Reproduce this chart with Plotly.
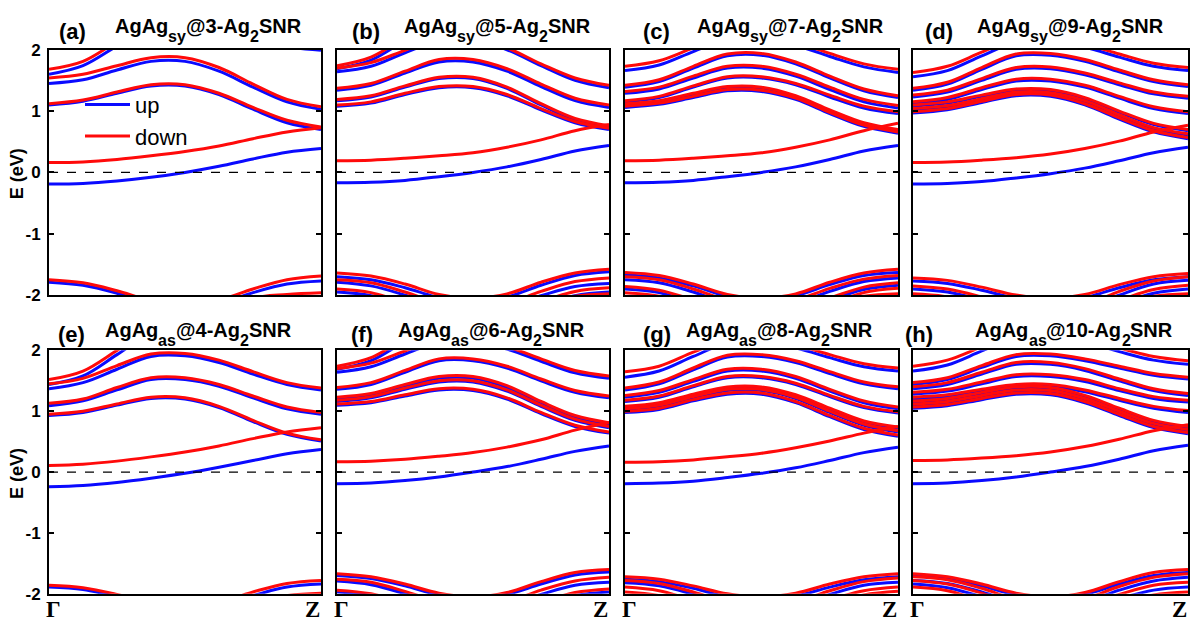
import plotly.graph_objects as go

# k-path sampling between Gamma (0) and Z (1)
k_path = [0.0, 0.125, 0.25, 0.375, 0.5, 0.625, 0.75, 0.875, 1.0]

panel_tags = ["(a)", "(b)", "(c)", "(d)", "(e)", "(f)", "(g)", "(h)"]
# title pieces: AgAg_{site}@{width}-Ag_2SNR
title_sites = ["sy", "sy", "sy", "sy", "as", "as", "as", "as"]
title_widths = ["3", "5", "7", "9", "4", "6", "8", "10"]
y_ticks = [-2, -1, 0, 1, 2]
x_tick_labels = ["Γ", "Z"]
legend_names = ["up", "down"]

# ---- (a) AgAg_sy@3 : spin-up / spin-down bands (eV) ----
a_up = [
    [-0.19, -0.18, -0.14, -0.08, 0.00, 0.10, 0.22, 0.33, 0.39],
    [1.10, 1.16, 1.29, 1.41, 1.41, 1.27, 1.03, 0.81, 0.70],
    [1.45, 1.51, 1.67, 1.81, 1.81, 1.65, 1.39, 1.15, 1.03],
    [1.60, 1.74, 2.06, 2.36, 2.39, 2.31, 2.17, 2.05, 1.99],
    [-1.79, -1.84, -1.97, -2.14, -2.20, -2.14, -1.96, -1.82, -1.77],
    [-2.35, -2.40, -2.50, -2.60, -2.65, -2.50, -2.20, -2.08, -2.04],
]
a_dn = [
    [0.16, 0.17, 0.21, 0.27, 0.34, 0.43, 0.55, 0.66, 0.73],
    [1.12, 1.18, 1.31, 1.43, 1.43, 1.29, 1.06, 0.85, 0.74],
    [1.54, 1.60, 1.74, 1.87, 1.87, 1.71, 1.44, 1.19, 1.07],
    [1.68, 1.81, 2.13, 2.41, 2.44, 2.36, 2.22, 2.10, 2.04],
    [-1.75, -1.80, -1.93, -2.09, -2.15, -2.08, -1.90, -1.75, -1.69],
    [-2.30, -2.34, -2.44, -2.56, -2.60, -2.40, -2.06, -1.99, -1.96],
]

# ---- (b) AgAg_sy@5 ----
b_up = [
    [-0.17, -0.16, -0.13, -0.07, 0.00, 0.09, 0.21, 0.35, 0.44],
    [1.08, 1.13, 1.27, 1.38, 1.38, 1.25, 1.02, 0.81, 0.70],
    [1.17, 1.23, 1.39, 1.53, 1.53, 1.37, 1.10, 0.85, 0.73],
    [1.34, 1.42, 1.62, 1.80, 1.80, 1.65, 1.40, 1.17, 1.06],
    [1.64, 1.73, 1.95, 2.14, 2.15, 2.00, 1.74, 1.50, 1.38],
    [1.69, 1.83, 2.15, 2.45, 2.50, 2.40, 2.25, 2.13, 2.08],
    [-1.70, -1.75, -1.88, -2.04, -2.10, -2.03, -1.84, -1.68, -1.62],
    [-1.79, -1.85, -2.00, -2.18, -2.25, -2.18, -2.01, -1.86, -1.81],
    [-1.95, -2.01, -2.18, -2.38, -2.45, -2.38, -2.18, -2.01, -1.95],
]
b_dn = [
    [0.19, 0.20, 0.23, 0.27, 0.32, 0.41, 0.53, 0.68, 0.78],
    [1.10, 1.15, 1.29, 1.40, 1.40, 1.27, 1.04, 0.83, 0.72],
    [1.19, 1.25, 1.41, 1.55, 1.55, 1.39, 1.12, 0.88, 0.76],
    [1.37, 1.45, 1.65, 1.84, 1.84, 1.69, 1.44, 1.21, 1.10],
    [1.70, 1.79, 1.99, 2.18, 2.18, 2.03, 1.77, 1.54, 1.42],
    [1.74, 1.88, 2.20, 2.50, 2.55, 2.45, 2.30, 2.18, 2.12],
    [-1.64, -1.69, -1.82, -1.99, -2.05, -1.98, -1.79, -1.64, -1.58],
    [-1.75, -1.80, -1.95, -2.13, -2.20, -2.13, -1.94, -1.78, -1.72],
    [-1.90, -1.96, -2.13, -2.33, -2.40, -2.32, -2.11, -1.94, -1.88],
    [-2.30, -2.35, -2.45, -2.55, -2.60, -2.45, -2.15, -2.02, -1.98],
]

# ---- (c) AgAg_sy@7 ----
c_up = [
    [-0.17, -0.16, -0.13, -0.07, 0.00, 0.09, 0.21, 0.35, 0.44],
    [1.06, 1.11, 1.22, 1.33, 1.32, 1.19, 0.96, 0.75, 0.64],
    [1.10, 1.15, 1.27, 1.38, 1.37, 1.23, 1.00, 0.79, 0.68],
    [1.15, 1.22, 1.39, 1.54, 1.54, 1.43, 1.23, 1.05, 0.96],
    [1.29, 1.36, 1.54, 1.70, 1.70, 1.57, 1.35, 1.15, 1.05],
    [1.39, 1.48, 1.70, 1.90, 1.91, 1.77, 1.54, 1.33, 1.22],
    [1.66, 1.75, 1.97, 2.17, 2.18, 2.07, 1.89, 1.72, 1.63],
    [-1.67, -1.72, -1.85, -2.02, -2.08, -2.01, -1.83, -1.68, -1.63],
    [-1.75, -1.80, -1.95, -2.13, -2.20, -2.13, -1.94, -1.78, -1.72],
    [-1.90, -1.96, -2.13, -2.33, -2.40, -2.32, -2.09, -1.91, -1.84],
]
c_dn = [
    [0.19, 0.20, 0.23, 0.27, 0.32, 0.41, 0.53, 0.68, 0.80],
    [1.08, 1.13, 1.24, 1.35, 1.34, 1.21, 0.98, 0.77, 0.66],
    [1.12, 1.17, 1.29, 1.40, 1.39, 1.25, 1.02, 0.81, 0.70],
    [1.17, 1.24, 1.41, 1.56, 1.56, 1.45, 1.26, 1.08, 0.99],
    [1.32, 1.39, 1.57, 1.73, 1.73, 1.60, 1.39, 1.19, 1.09],
    [1.42, 1.51, 1.73, 1.93, 1.94, 1.80, 1.57, 1.36, 1.25],
    [1.73, 1.82, 2.03, 2.22, 2.23, 2.12, 1.94, 1.77, 1.68],
    [-1.63, -1.68, -1.82, -1.99, -2.05, -1.98, -1.79, -1.64, -1.58],
    [-1.70, -1.75, -1.90, -2.08, -2.15, -2.08, -1.89, -1.74, -1.68],
    [-1.86, -1.92, -2.08, -2.28, -2.35, -2.27, -2.05, -1.87, -1.80],
    [-1.96, -2.02, -2.20, -2.42, -2.50, -2.41, -2.16, -1.96, -1.89],
    [-2.30, -2.35, -2.45, -2.55, -2.60, -2.45, -2.15, -2.02, -1.98],
]

# ---- (d) AgAg_sy@9 ----
d_up = [
    [-0.19, -0.18, -0.15, -0.09, -0.02, 0.07, 0.19, 0.32, 0.41],
    [0.97, 1.02, 1.14, 1.25, 1.24, 1.10, 0.87, 0.66, 0.55],
    [1.02, 1.07, 1.18, 1.29, 1.28, 1.15, 0.92, 0.71, 0.61],
    [1.08, 1.13, 1.24, 1.34, 1.33, 1.20, 0.98, 0.78, 0.68],
    [1.12, 1.19, 1.35, 1.49, 1.49, 1.39, 1.21, 1.04, 0.96],
    [1.23, 1.31, 1.50, 1.68, 1.69, 1.59, 1.43, 1.28, 1.21],
    [1.34, 1.44, 1.68, 1.90, 1.91, 1.81, 1.64, 1.48, 1.40],
    [1.56, 1.66, 1.90, 2.12, 2.14, 2.04, 1.88, 1.73, 1.66],
    [-1.77, -1.81, -1.92, -2.05, -2.10, -2.04, -1.88, -1.75, -1.70],
    [-1.90, -1.95, -2.08, -2.24, -2.30, -2.21, -2.00, -1.82, -1.76],
    [-2.03, -2.08, -2.22, -2.39, -2.45, -2.37, -2.15, -1.97, -1.90],
]
d_dn = [
    [0.16, 0.17, 0.20, 0.24, 0.30, 0.39, 0.51, 0.66, 0.77],
    [0.99, 1.04, 1.16, 1.27, 1.26, 1.12, 0.89, 0.68, 0.57],
    [1.04, 1.09, 1.20, 1.31, 1.30, 1.17, 0.94, 0.73, 0.63],
    [1.10, 1.15, 1.26, 1.36, 1.35, 1.22, 1.00, 0.80, 0.70],
    [1.15, 1.22, 1.38, 1.52, 1.52, 1.42, 1.24, 1.07, 0.99],
    [1.26, 1.34, 1.53, 1.71, 1.72, 1.62, 1.46, 1.31, 1.24],
    [1.37, 1.47, 1.71, 1.93, 1.94, 1.84, 1.67, 1.51, 1.43],
    [1.63, 1.73, 1.96, 2.17, 2.19, 2.09, 1.93, 1.78, 1.71],
    [-1.72, -1.76, -1.87, -2.00, -2.05, -1.99, -1.83, -1.70, -1.65],
    [-1.85, -1.90, -2.03, -2.19, -2.25, -2.16, -1.94, -1.77, -1.70],
    [-1.98, -2.03, -2.17, -2.34, -2.40, -2.32, -2.09, -1.91, -1.84],
    [-2.30, -2.35, -2.45, -2.55, -2.60, -2.45, -2.15, -2.02, -1.98],
]

# ---- (e) AgAg_as@4 ----
e_up = [
    [-0.24, -0.22, -0.17, -0.10, -0.02, 0.08, 0.19, 0.30, 0.37],
    [0.93, 0.98, 1.10, 1.21, 1.20, 1.06, 0.83, 0.62, 0.51],
    [1.09, 1.17, 1.35, 1.52, 1.52, 1.41, 1.22, 1.04, 0.95],
    [1.37, 1.47, 1.69, 1.90, 1.91, 1.80, 1.61, 1.44, 1.35],
    [1.44, 1.58, 1.93, 2.28, 2.40, 2.35, 2.25, 2.15, 2.10],
    [-1.89, -1.93, -2.05, -2.20, -2.25, -2.19, -2.03, -1.89, -1.84],
]
e_dn = [
    [0.11, 0.13, 0.18, 0.25, 0.33, 0.43, 0.55, 0.66, 0.73],
    [0.95, 1.00, 1.12, 1.23, 1.22, 1.08, 0.85, 0.64, 0.53],
    [1.13, 1.20, 1.39, 1.55, 1.55, 1.44, 1.25, 1.07, 0.98],
    [1.45, 1.54, 1.75, 1.94, 1.95, 1.84, 1.65, 1.47, 1.38],
    [1.52, 1.66, 2.00, 2.35, 2.45, 2.40, 2.30, 2.20, 2.15],
    [-1.86, -1.90, -2.01, -2.15, -2.20, -2.14, -1.97, -1.83, -1.78],
    [-2.30, -2.35, -2.45, -2.55, -2.60, -2.45, -2.15, -2.03, -1.99],
]

# ---- (f) AgAg_as@6 ----
f_up = [
    [-0.19, -0.18, -0.14, -0.08, 0.00, 0.09, 0.21, 0.34, 0.43],
    [1.10, 1.14, 1.25, 1.35, 1.34, 1.20, 0.96, 0.75, 0.64],
    [1.16, 1.22, 1.36, 1.48, 1.48, 1.33, 1.08, 0.85, 0.73],
    [1.20, 1.26, 1.41, 1.54, 1.54, 1.39, 1.13, 0.90, 0.78],
    [1.36, 1.44, 1.64, 1.83, 1.83, 1.71, 1.50, 1.31, 1.22],
    [1.64, 1.73, 1.94, 2.13, 2.14, 2.02, 1.82, 1.63, 1.54],
    [1.69, 1.83, 2.15, 2.45, 2.50, 2.40, 2.25, 2.13, 2.08],
    [-1.70, -1.75, -1.87, -2.02, -2.08, -2.01, -1.84, -1.69, -1.64],
    [-1.79, -1.85, -2.00, -2.18, -2.25, -2.18, -2.01, -1.86, -1.81],
    [-1.97, -2.03, -2.19, -2.38, -2.45, -2.38, -2.19, -2.03, -1.97],
]
f_dn = [
    [0.17, 0.18, 0.21, 0.26, 0.32, 0.41, 0.53, 0.69, 0.81],
    [1.12, 1.16, 1.27, 1.37, 1.36, 1.22, 0.98, 0.77, 0.66],
    [1.18, 1.24, 1.38, 1.50, 1.50, 1.35, 1.10, 0.87, 0.75],
    [1.23, 1.29, 1.44, 1.57, 1.57, 1.42, 1.16, 0.93, 0.81],
    [1.39, 1.47, 1.67, 1.86, 1.86, 1.74, 1.53, 1.34, 1.25],
    [1.70, 1.79, 1.99, 2.18, 2.18, 2.06, 1.86, 1.67, 1.58],
    [1.74, 1.88, 2.20, 2.50, 2.55, 2.45, 2.30, 2.18, 2.12],
    [-1.67, -1.72, -1.84, -1.99, -2.05, -1.98, -1.80, -1.65, -1.60],
    [-1.76, -1.81, -1.96, -2.13, -2.20, -2.13, -1.94, -1.79, -1.73],
    [-1.94, -2.00, -2.15, -2.33, -2.40, -2.33, -2.14, -1.98, -1.92],
]

# ---- (g) AgAg_as@8 ----
g_up = [
    [-0.19, -0.18, -0.15, -0.09, -0.02, 0.07, 0.19, 0.32, 0.41],
    [0.98, 1.03, 1.17, 1.28, 1.28, 1.14, 0.91, 0.70, 0.59],
    [1.02, 1.08, 1.22, 1.34, 1.34, 1.21, 0.98, 0.77, 0.66],
    [1.06, 1.12, 1.26, 1.38, 1.38, 1.25, 1.03, 0.82, 0.72],
    [1.16, 1.23, 1.40, 1.55, 1.55, 1.44, 1.24, 1.06, 0.97],
    [1.23, 1.31, 1.49, 1.66, 1.66, 1.54, 1.33, 1.14, 1.04],
    [1.35, 1.45, 1.68, 1.89, 1.90, 1.80, 1.62, 1.45, 1.37],
    [1.56, 1.66, 1.90, 2.12, 2.14, 2.04, 1.88, 1.73, 1.66],
    [-1.76, -1.80, -1.91, -2.05, -2.10, -2.04, -1.89, -1.77, -1.72],
    [-1.82, -1.87, -2.01, -2.19, -2.25, -2.18, -2.01, -1.86, -1.81],
]
g_dn = [
    [0.16, 0.17, 0.20, 0.25, 0.31, 0.40, 0.51, 0.64, 0.75],
    [1.00, 1.05, 1.19, 1.30, 1.30, 1.16, 0.93, 0.72, 0.61],
    [1.04, 1.10, 1.24, 1.36, 1.36, 1.23, 1.00, 0.79, 0.68],
    [1.08, 1.14, 1.28, 1.40, 1.40, 1.27, 1.05, 0.84, 0.74],
    [1.18, 1.25, 1.42, 1.57, 1.57, 1.46, 1.26, 1.08, 0.99],
    [1.26, 1.34, 1.52, 1.69, 1.69, 1.57, 1.36, 1.17, 1.07],
    [1.38, 1.48, 1.71, 1.92, 1.93, 1.83, 1.65, 1.48, 1.40],
    [1.65, 1.74, 1.97, 2.17, 2.19, 2.09, 1.93, 1.78, 1.71],
    [-1.72, -1.76, -1.87, -2.00, -2.05, -1.99, -1.84, -1.72, -1.67],
    [-1.78, -1.83, -1.97, -2.14, -2.20, -2.13, -1.95, -1.80, -1.74],
    [-1.89, -1.95, -2.11, -2.29, -2.35, -2.29, -2.10, -1.95, -1.89],
    [-1.97, -2.03, -2.19, -2.38, -2.45, -2.38, -2.18, -2.02, -1.96],
]

# ---- (h) AgAg_as@10 ----
h_up = [
    [-0.19, -0.18, -0.14, -0.08, 0.00, 0.09, 0.21, 0.35, 0.44],
    [1.05, 1.09, 1.19, 1.28, 1.27, 1.14, 0.93, 0.73, 0.63],
    [1.10, 1.14, 1.24, 1.33, 1.32, 1.19, 0.98, 0.78, 0.68],
    [1.15, 1.19, 1.29, 1.38, 1.37, 1.24, 1.03, 0.83, 0.73],
    [1.20, 1.24, 1.33, 1.41, 1.41, 1.32, 1.18, 1.05, 0.98],
    [1.28, 1.33, 1.45, 1.57, 1.57, 1.49, 1.34, 1.21, 1.15],
    [1.37, 1.44, 1.61, 1.77, 1.77, 1.67, 1.50, 1.34, 1.26],
    [1.44, 1.52, 1.72, 1.90, 1.91, 1.83, 1.71, 1.59, 1.53],
    [1.66, 1.76, 1.99, 2.21, 2.23, 2.14, 1.98, 1.84, 1.77],
    [-1.70, -1.75, -1.87, -2.02, -2.08, -2.01, -1.84, -1.70, -1.65],
    [-1.78, -1.83, -1.97, -2.14, -2.20, -2.13, -1.94, -1.79, -1.73],
    [-1.84, -1.90, -2.05, -2.23, -2.30, -2.24, -2.08, -1.94, -1.89],
]
h_dn = [
    [0.19, 0.20, 0.23, 0.27, 0.33, 0.42, 0.54, 0.68, 0.78],
    [1.07, 1.11, 1.21, 1.30, 1.29, 1.16, 0.95, 0.75, 0.65],
    [1.12, 1.16, 1.26, 1.35, 1.34, 1.21, 1.00, 0.80, 0.70],
    [1.17, 1.21, 1.31, 1.40, 1.39, 1.26, 1.05, 0.85, 0.75],
    [1.23, 1.27, 1.36, 1.44, 1.44, 1.35, 1.21, 1.08, 1.01],
    [1.31, 1.36, 1.48, 1.60, 1.60, 1.52, 1.37, 1.24, 1.18],
    [1.40, 1.47, 1.64, 1.80, 1.80, 1.70, 1.53, 1.37, 1.29],
    [1.47, 1.55, 1.75, 1.93, 1.94, 1.86, 1.74, 1.62, 1.56],
    [1.74, 1.84, 2.06, 2.27, 2.29, 2.20, 2.04, 1.90, 1.83],
    [-1.67, -1.72, -1.84, -1.99, -2.05, -1.98, -1.80, -1.65, -1.60],
    [-1.72, -1.77, -1.91, -2.09, -2.15, -2.08, -1.88, -1.73, -1.67],
    [-1.78, -1.84, -1.99, -2.18, -2.25, -2.18, -2.01, -1.86, -1.81],
    [-1.89, -1.95, -2.12, -2.32, -2.40, -2.33, -2.17, -2.02, -1.97],
]

spin_up = [a_up, b_up, c_up, d_up, e_up, f_up, g_up, h_up]
spin_dn = [a_dn, b_dn, c_dn, d_dn, e_dn, f_dn, g_dn, h_dn]

# ---- page geometry (pixels) ----
W, H = 1198, 629
col_px = [(49, 321), (337, 609), (625, 898), (913, 1188)]
row_px = [(42, 295), (352, 603)]
tag_cy = [23, 336]          # vertical centre of the panel letters
title_base = [25, 338]      # baseline of the panel titles
tag_dx = [23, 29, 31, 26, 22, 25, 32, 6]
title_dx = [158, 159, 164, 156, 148, 153, 153, 160]
MAIN_SIZE, SUB_SIZE, SUB_DROP = 20, 16, 9
BLUE = "#0a0aff"
RED = "#ff0a0a"
SANS = "Liberation Sans, Arial, sans-serif"
SERIF = "Liberation Serif, Times New Roman, serif"

# advance widths (1/1000 em) of the bold sans glyphs used in the titles
BOLD_ADV = {"A": 722, "g": 611, "s": 556, "y": 556, "a": 556, "@": 975,
            "-": 333, "S": 667, "N": 722, "R": 722}


def text_width(s, size):
    return sum(BOLD_ADV.get(ch, 556) for ch in s) * size / 1000.0


fig = go.Figure()
layout_axes = {}
annotations = []
shapes = []

for i in range(8):
    r, c = divmod(i, 4)
    n = i + 1
    xa = "x" if n == 1 else f"x{n}"
    ya = "y" if n == 1 else f"y{n}"
    x0, x1 = col_px[c]
    y0, y1 = row_px[r]

    layout_axes["xaxis" if n == 1 else f"xaxis{n}"] = dict(
        domain=[x0 / W, x1 / W], range=[0, 1], anchor=ya,
        showline=True, linewidth=2, linecolor="black", mirror=True,
        ticks="", showticklabels=False, showgrid=False, zeroline=False,
    )
    layout_axes["yaxis" if n == 1 else f"yaxis{n}"] = dict(
        domain=[1 - y1 / H, 1 - y0 / H], range=[-2, 2], anchor=xa,
        showline=True, linewidth=2, linecolor="black", mirror="ticks",
        ticks="inside", ticklen=5, tickwidth=2, tickcolor="black",
        tickvals=y_ticks, ticktext=[str(t) for t in y_ticks],
        showticklabels=(c == 0), ticklabelstandoff=3,
        tickfont=dict(family=SANS, size=17, color="black", weight="bold"),
        showgrid=False, zeroline=False,
    )

    for j, band in enumerate(spin_up[i]):
        fig.add_trace(go.Scatter(
            x=k_path, y=band, mode="lines", xaxis=xa, yaxis=ya,
            line=dict(color=BLUE, width=3, shape="spline", smoothing=1.0),
            name=legend_names[0], legendgroup="up",
            showlegend=(i == 0 and j == 0), hoverinfo="skip",
        ))
    for j, band in enumerate(spin_dn[i]):
        fig.add_trace(go.Scatter(
            x=k_path, y=band, mode="lines", xaxis=xa, yaxis=ya,
            line=dict(color=RED, width=3, shape="spline", smoothing=1.0),
            name=legend_names[1], legendgroup="down",
            showlegend=(i == 0 and j == 0), hoverinfo="skip",
        ))

    # Fermi level
    shapes.append(dict(
        type="line", xref=f"{xa} domain", yref=ya, x0=0, x1=1, y0=0, y1=0,
        line=dict(color="black", width=1.3, dash="dash"), layer="above",
    ))

    # panel letter
    annotations.append(dict(
        text=panel_tags[i], xref="paper", yref="paper",
        x=(x0 + tag_dx[i]) / W, y=1 - tag_cy[r] / H,
        xanchor="center", yanchor="middle", showarrow=False,
        font=dict(family=SANS, size=22, color="black", weight="bold"),
    ))

    # panel title built from main text and lowered subscripts
    pieces = [("AgAg", False), (title_sites[i], True),
              (f"@{title_widths[i]}-Ag", False), ("2", True), ("SNR", False)]
    widths = [text_width(t, SUB_SIZE if sub else MAIN_SIZE) for t, sub in pieces]
    cursor = x0 + title_dx[i] - sum(widths) / 2
    for (txt, sub), w in zip(pieces, widths):
        size = SUB_SIZE if sub else MAIN_SIZE
        base = title_base[r] + (SUB_DROP if sub else 0)
        annotations.append(dict(
            text=txt, xref="paper", yref="paper",
            x=cursor / W, y=1 - (base - 0.35 * size) / H,
            xanchor="left", yanchor="middle", showarrow=False, borderpad=0,
            font=dict(family=SANS, size=size, color="black", weight="bold"),
        ))
        cursor += w

    if r == 1:
        annotations.append(dict(
            text=x_tick_labels[0], xref=xa, yref="paper", x=0, xshift=-5,
            y=1 - 619 / H, xanchor="left", yanchor="middle", showarrow=False,
            font=dict(family=SERIF, size=23, color="black", weight="bold"),
        ))
        annotations.append(dict(
            text=x_tick_labels[1], xref=xa, yref="paper", x=1, xshift=1,
            y=1 - 619 / H, xanchor="right", yanchor="middle", showarrow=False,
            font=dict(family=SERIF, size=23, color="black", weight="bold"),
        ))

    if c == 0:
        annotations.append(dict(
            text="E (eV)", xref="paper", yref="paper", x=17 / W,
            y=1 - ((y0 + y1) / 2 + 2) / H, xanchor="center", yanchor="middle",
            textangle=-90, showarrow=False,
            font=dict(family=SANS, size=18, color="black", weight="bold"),
        ))

fig.update_layout(
    width=W, height=H, autosize=False,
    margin=dict(l=0, r=0, t=0, b=0),
    paper_bgcolor="white", plot_bgcolor="white",
    annotations=annotations, shapes=shapes,
    showlegend=True,
    legend=dict(
        x=80 / W, y=1 - 77 / H, xanchor="left", yanchor="top",
        bgcolor="rgba(0,0,0,0)", borderwidth=0, itemwidth=45,
        font=dict(family=SANS, size=22, color="black"),
        tracegroupgap=0,
    ),
    **layout_axes,
)

fig.write_html("out.html")
